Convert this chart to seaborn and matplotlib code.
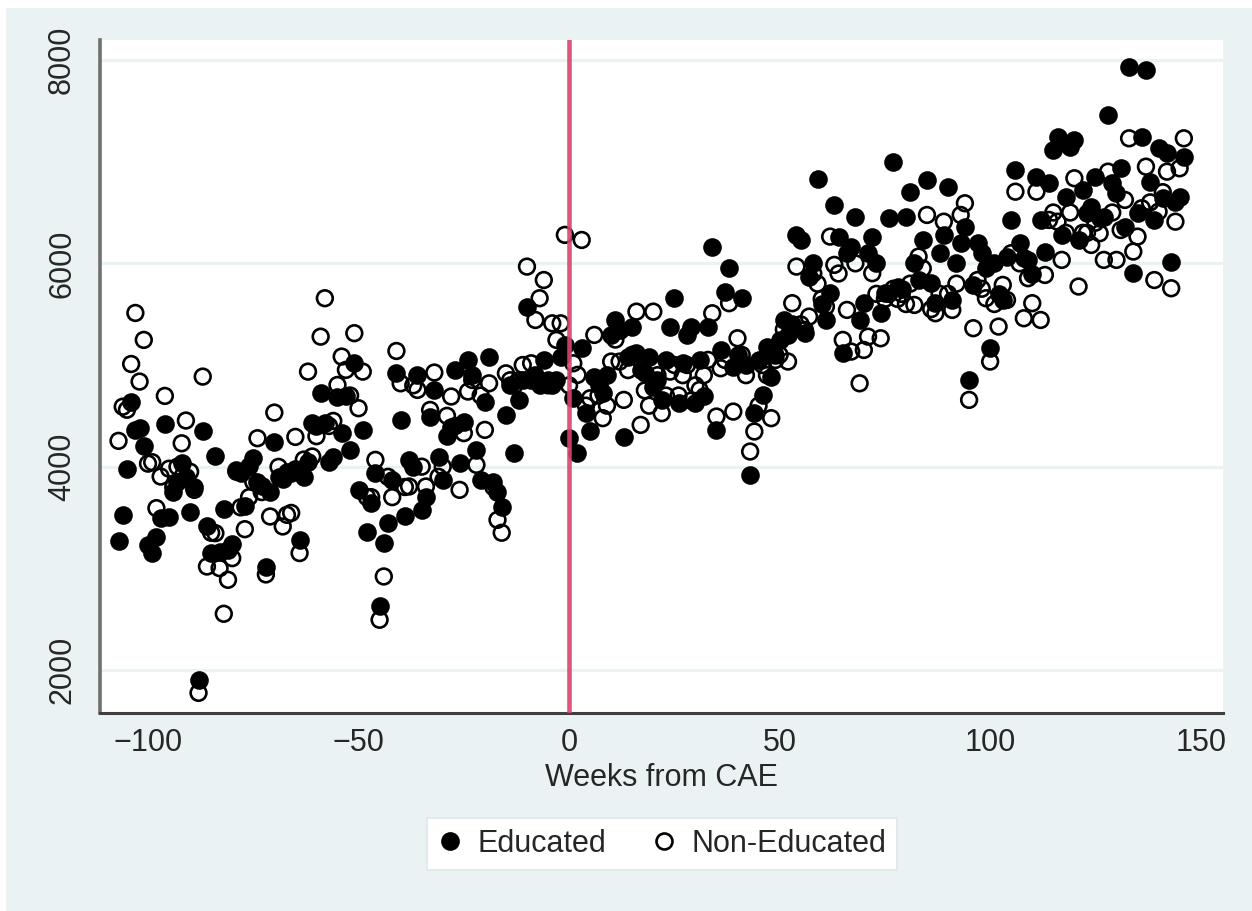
import numpy as np
import pandas as pd
import matplotlib
matplotlib.use("Agg")
import matplotlib.pyplot as plt
import seaborn as sns
from matplotlib.lines import Line2D
from matplotlib.patches import Rectangle

# ---------------- data ----------------
weeks = list(range(-107, 147))

educated = [
    3270, 3520, 3980, 4640, 4360, 4380, 4200, 3230, 3150, 3310,
    3500, 4417, 3502, 3750, 3850, 4034, 3900, 3553, 3800, 1903,
    4346, 3412, 3150, 4106, 3160, 3582, 3182, 3240, 3968, 3940,
    3614, 4010, 4085, 3850, 3805, 3010, 3750, 4247, 3900, 3880,
    3950, 3940, 3980, 3280, 3900, 4050, 4427, 4400, 4722, 4427,
    4050, 4100, 4690, 4330, 4700, 4165, 5017, 3772, 4362, 3362,
    3641, 3936, 2625, 3248, 3444, 3870, 4918, 4460, 3510, 4067,
    4000, 4903, 3575, 3706, 4493, 4755, 4100, 3870, 4300, 4394,
    4950, 4034, 4444, 5050, 4900, 4165, 3870, 4640, 5083, 3850,
    3750, 3600, 4510, 4800, 4133, 4657, 4850, 5575, 4850, 4900,
    4800, 5050, 4850, 4800, 4850, 5083, 5197, 4280, 4673, 4133,
    5165, 4526, 4346, 4886, 4800, 4722, 4900, 5300, 5443, 5345,
    4290, 5083, 5378, 5116, 4950, 4918, 5083, 4788, 4850, 4657,
    5050, 5378, 5657, 4624, 5017, 5300, 5378, 4624, 5050, 4700,
    5378, 6165, 4362, 5148, 5722, 5952, 4985, 5100, 5657, 5000,
    3920, 4526, 5050, 4706, 5181, 4886, 5100, 5247, 5443, 5300,
    5400, 6280, 6230, 5313, 5870, 6001, 6827, 5600, 5443, 5706,
    6574, 6263, 5116, 6100, 6165, 6459, 5443, 5608, 6100, 6263,
    6001, 5509, 5706, 6443, 7000, 5772, 5750, 6459, 6705, 6000,
    5836, 6230, 6820, 5804, 5608, 6100, 6280, 6754, 5640, 6000,
    6198, 6361, 4853, 5788, 6198, 6100, 5950, 5165, 6001, 5700,
    5640, 6067, 6427, 6918, 6198, 6050, 6034, 5900, 6853, 6427,
    6116, 6788, 7115, 7246, 6280, 6656, 7148, 7213, 6230, 6722,
    6500, 6558, 6853, 6450, 6459, 7459, 6788, 6689, 6935, 6361,
    7934, 5903, 6500, 7246, 7902, 6800, 6427, 7132, 6640, 7082,
    6017, 6600, 6656, 7050,
]

non_educated = [
    4254, 4590, 4560, 5010, 5512, 4837, 5247, 4030, 4044, 3592,
    3903, 4696, 3980, 3800, 4000, 4230, 4454, 3950, 3772, 1775,
    4886, 3018, 3350, 3346, 3002, 2553, 2887, 3100, 3950, 3600,
    3385, 3700, 3850, 4280, 3750, 2940, 3510, 4532, 3998, 3412,
    3526, 3545, 4293, 3150, 4070, 4935, 4100, 4300, 5279, 5657,
    4400, 4450, 4804, 5083, 4952, 4700, 5313, 4575, 4935, 3700,
    3700, 4067, 2494, 2920, 3900, 3700, 5138, 4820, 3800, 3805,
    4800, 4755, 4000, 3805, 4558, 4926, 3900, 4000, 4500, 4690,
    4400, 3772, 4330, 4739, 4853, 4018, 4700, 4362, 4820, 3800,
    3477, 3350, 4918, 4850, 4800, 4850, 5000, 5968, 5017, 5443,
    5657, 5836, 4800, 5410, 5247, 5410, 6280, 4800, 5017, 4903,
    6230, 4600, 4673, 5296, 4700, 4477, 4600, 5034, 5250, 5034,
    4657, 4950, 5100, 5525, 4411, 4750, 4600, 5525, 4900, 4526,
    4700, 4935, 5000, 4700, 4900, 5000, 4650, 4800, 4755, 4900,
    5050, 5509, 4493, 4968, 5050, 5608, 4542, 5263, 5100, 4900,
    4149, 4346, 4600, 5000, 4900, 4477, 5050, 5100, 5350, 5034,
    5608, 5968, 5400, 5345, 5476, 5900, 5800, 5650, 5575, 6263,
    5985, 5900, 5247, 5542, 5132, 6000, 4820, 5148, 5279, 5903,
    5700, 5263, 5650, 5700, 5750, 5650, 5700, 5600, 5800, 5591,
    6067, 5950, 6476, 5550, 5509, 5700, 6410, 5700, 5542, 5800,
    6476, 6591, 4657, 5362, 5836, 5750, 5657, 5034, 5600, 5378,
    5788, 5640, 6100, 6705, 6000, 5460, 5854, 5608, 6705, 5443,
    5886, 6427, 6500, 6410, 6034, 6300, 6500, 6837, 5772, 6300,
    6300, 6181, 6400, 6296, 6034, 6902, 6500, 6034, 6328, 6624,
    7230, 6116, 6263, 6542, 6951, 6600, 5836, 6509, 6700, 6902,
    5755, 6410, 6935, 7230,
]

series_labels = ["Educated", "Non-Educated"]
x_ticks = [-100, -50, 0, 50, 100, 150]
y_ticks = [2000, 4000, 6000, 8000]
x_label = "Weeks from CAE"
event_week = 0

df = pd.DataFrame({"week": weeks, "educated": educated, "non_educated": non_educated})

# ---------------- style ----------------
sns.set_style("white")
plt.rcParams["font.family"] = ["Liberation Sans", "DejaVu Sans"]

FS = 22
BG = "#EAF2F3"
TXT = "#262626"
fig = plt.figure(figsize=(12.52, 9.11), dpi=100, facecolor="white")
fig.patches.append(Rectangle((6 / 1252, 0), 1 - 6 / 1252, 1 - 8 / 911,
                             transform=fig.transFigure, facecolor=BG,
                             edgecolor="none", zorder=-10))

ax = fig.add_axes([100 / 1252, 1 - 713 / 911, 1123 / 1252, 673 / 911])
ax.set_facecolor("white")

ax.set_axisbelow(True)
ax.yaxis.grid(True, color=BG, lw=2.2)
ax.xaxis.grid(False)

sns.scatterplot(data=df, x="week", y="educated", ax=ax, color="black",
                s=180, linewidth=0, marker="o", zorder=3, legend=False)
sns.scatterplot(data=df, x="week", y="non_educated", ax=ax,
                facecolor="none", edgecolor="black", s=128, linewidth=1.9,
                marker="o", zorder=3.5, legend=False)

ax.axvline(event_week, color="#D8466F", lw=3.3, alpha=0.9, zorder=5)

ax.set_xlim(-111.4, 155.3)
ax.set_ylim(1577, 8197)

ax.set_xticks(x_ticks)
ax.set_xticklabels([f"\u2212{abs(t)}" if t < 0 else str(t) for t in x_ticks])
ax.set_yticks(y_ticks)
ax.set_yticklabels([str(t) for t in y_ticks], rotation=90, va="center")

ax.tick_params(axis="x", direction="out", length=8.5, width=1.8,
               color="#404040", labelsize=FS, labelcolor=TXT, pad=2)
ax.tick_params(axis="y", direction="out", length=8.5, width=1.8,
               color="#404040", labelsize=FS, labelcolor=TXT, pad=8)

for side in ["top", "right"]:
    ax.spines[side].set_visible(False)
ax.spines["bottom"].set_color("#404040")
ax.spines["bottom"].set_linewidth(2.2)
ax.spines["left"].set_color("#707070")
ax.spines["left"].set_linewidth(2.6)

ax.set_xlabel(x_label, fontsize=FS, color=TXT, labelpad=4)
ax.set_ylabel("")

handles = [
    Line2D([], [], ls="", marker="o", markersize=13.5, markerfacecolor="black",
           markeredgecolor="black", markeredgewidth=0),
    Line2D([], [], ls="", marker="o", markersize=11.5, markerfacecolor="white",
           markeredgecolor="black", markeredgewidth=1.9),
]
leg = fig.legend(handles, series_labels, loc="center",
                 bbox_to_anchor=(662 / 1252, 1 - 844 / 911), ncol=2,
                 fontsize=FS, frameon=True, fancybox=False,
                 edgecolor="#DDE7E9", facecolor="white", framealpha=1,
                 handlelength=0.8, handletextpad=0.5, columnspacing=1.5,
                 borderpad=0.35, borderaxespad=0)
leg.get_frame().set_linewidth(1.2)
for t in leg.get_texts():
    t.set_color(TXT)

fig.savefig("out.png", dpi=100, facecolor=fig.get_facecolor())
